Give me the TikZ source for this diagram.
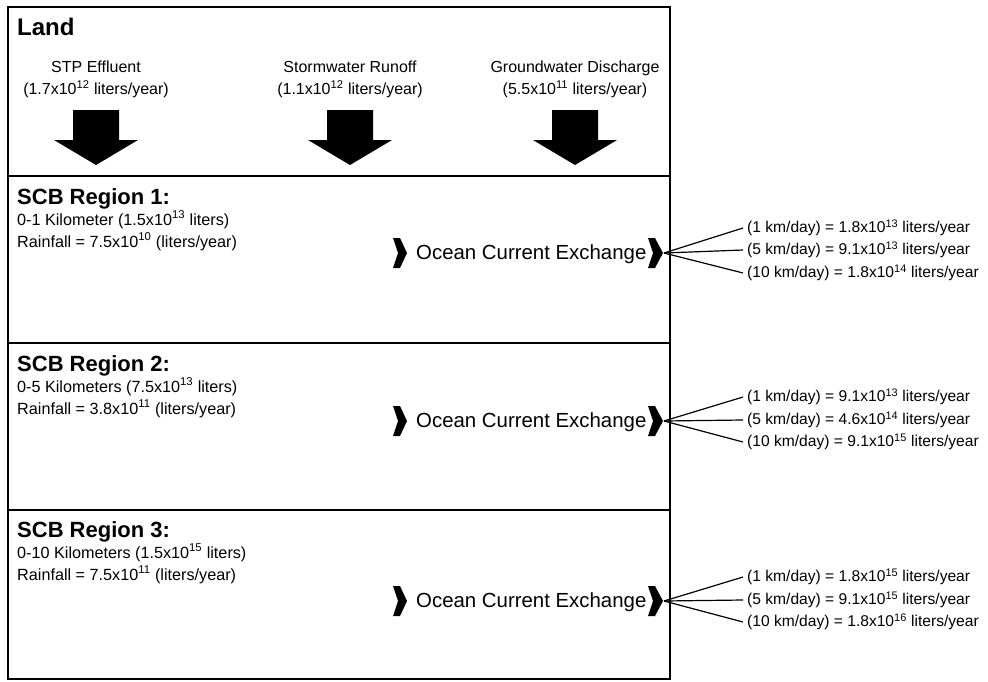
\documentclass[tikz,border=0pt]{standalone}
\usepackage{fontspec}
\setmainfont{Liberation Sans}
\begin{document}
\begin{tikzpicture}[x=1pt,y=-1pt,
  frame/.style={line width=2.5pt},
  landtitle/.style={font=\fontsize{24}{28}\selectfont\bfseries,inner sep=0pt,anchor=base west},
  srctext/.style={font=\fontsize{16}{22}\selectfont,align=center,inner sep=0pt,anchor=north},
  regtitle/.style={font=\fontsize{22}{26}\selectfont\bfseries,inner sep=0pt,anchor=base west},
  regtext/.style={font=\fontsize{16.2}{18}\selectfont,inner sep=0pt,anchor=base west},
  ocetext/.style={font=\fontsize{20.4}{24}\selectfont,inner sep=0pt,anchor=base west},
  ratetext/.style={font=\fontsize{15.6}{18}\selectfont,inner xsep=4pt,inner ysep=0pt,anchor=west},
  fan/.style={line width=1.2pt},
  blockarrow/.style={fill=black}]
\useasboundingbox (0,0) rectangle (988,681);
% frame and dividers
\draw[frame] (8,7) rectangle (670,679);
\draw[frame] (8,176) -- (670,176);
\draw[frame] (8,343) -- (670,343);
\draw[frame] (8,510) -- (670,510);
% Land
\node[landtitle] (land) at (17,35) {Land};
\node[srctext] (stp) at (96,61) {STP Effluent\\(1.7x10\textsuperscript{12} liters/year)};
\node[srctext] (storm) at (350,61) {Stormwater Runoff\\(1.1x10\textsuperscript{12} liters/year)};
\node[srctext] (ground) at (575,61) {Groundwater Discharge\\(5.5x10\textsuperscript{11} liters/year)};
\foreach \cx/\nm in {96/a1,350/a2,575/a3}{
  \coordinate (\nm) at (\cx,110);
  \fill[blockarrow] (\nm) ++(-23,0) -- ++(46,0) -- ++(0,30) -- ++(19,0) -- ++(-42,25) -- ++(-42,-25) -- ++(19,0) -- cycle;
}
% Region 1
\node[regtitle] (r1t) at (17,204) {SCB Region 1:};
\node[regtext] (r1k) at (17,225) {0-1 Kilometer (1.5x10\textsuperscript{13} liters)};
\node[regtext] (r1r) at (17,247) {Rainfall = 7.5x10\textsuperscript{10} (liters/year)};
\node[ocetext] (o1) at (416,259) {Ocean Current Exchange};
% Region 2
\node[regtitle] (r2t) at (17,371) {SCB Region 2:};
\node[regtext] (r2k) at (17,392) {0-5 Kilometers (7.5x10\textsuperscript{13} liters)};
\node[regtext] (r2r) at (17,414) {Rainfall = 3.8x10\textsuperscript{11} (liters/year)};
\node[ocetext] (o2) at (416,427) {Ocean Current Exchange};
% Region 3
\node[regtitle] (r3t) at (17,537) {SCB Region 3:};
\node[regtext] (r3k) at (17,558) {0-10 Kilometers (1.5x10\textsuperscript{15} liters)};
\node[regtext] (r3r) at (17,580) {Rainfall = 7.5x10\textsuperscript{11} (liters/year)};
\node[ocetext] (o3) at (416,607) {Ocean Current Exchange};
% chevrons
\foreach \yy/\nm in {253/1,421/2,601/3}{
  \coordinate (cl\nm) at (393,\yy);
  \coordinate (cr\nm) at (648,\yy);
  \coordinate (tip\nm) at (664,\yy);
  \fill (cl\nm) ++(0,-15) -- ++(7,0) -- ++(7,15) -- ++(-7,15) -- ++(-7,0) -- ++(5,-15) -- cycle;
  \fill (cr\nm) ++(0,-15) -- ++(7,0) -- ++(8,15) -- ++(-8,15) -- ++(-7,0) -- ++(5,-15) -- cycle;
}
% rates
\node[ratetext] (q11) at (743,228) {(1 km/day) = 1.8x10\textsuperscript{13} liters/year};
\node[ratetext] (q12) at (743,250) {(5 km/day) = 9.1x10\textsuperscript{13} liters/year};
\node[ratetext] (q13) at (743,273) {(10 km/day) = 1.8x10\textsuperscript{14} liters/year};
\node[ratetext] (q21) at (743,397) {(1 km/day) = 9.1x10\textsuperscript{13} liters/year};
\node[ratetext] (q22) at (743,420) {(5 km/day) = 4.6x10\textsuperscript{14} liters/year};
\node[ratetext] (q23) at (743,442) {(10 km/day) = 9.1x10\textsuperscript{15} liters/year};
\node[ratetext] (q31) at (743,577) {(1 km/day) = 1.8x10\textsuperscript{15} liters/year};
\node[ratetext] (q32) at (743,600) {(5 km/day) = 9.1x10\textsuperscript{15} liters/year};
\node[ratetext] (q33) at (743,622) {(10 km/day) = 1.8x10\textsuperscript{16} liters/year};
\foreach \r in {1,2,3}{
  \foreach \k in {1,2,3}{
    \draw[fan] (tip\r) -- (q\r\k.west);
  }
}
\end{tikzpicture}
\end{document}
